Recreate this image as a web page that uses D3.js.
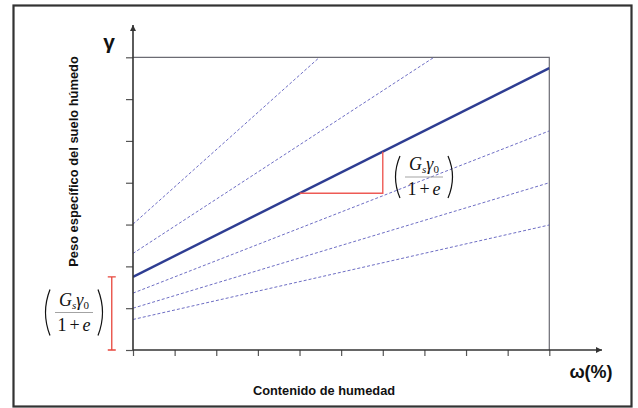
<!DOCTYPE html>
<html><head><meta charset="utf-8">
<script src="https://cdn.jsdelivr.net/npm/d3@7"></script>
<style>body{margin:0;background:#fff}svg{display:block}</style>
</head><body>
<svg id="c" width="638" height="408"></svg>
<script>
// ---- data ----
const xTicks = [0,1,2,3,4,5,6,7,8,9,10];
const yTicks = [0,1,2,3,4,5,6,7];
const mainLine = [[0,1.75],[10,6.74]];
const dashedLines = [
  [[0,3.01],[4.48,7]],
  [[0,2.31],[7.23,7]],
  [[0,1.36],[10,5.24]],
  [[0,1.00],[10,4.00]],
  [[0,0.73],[10,2.99]]
];
const slopeTriangle = [[4,3.75],[6,3.75],[6,4.74]];
const interceptBracket = [0,1.75];
const bracketX = -0.51;
const yLabel = "Peso específico del suelo húmedo";
const xLabel = "Contenido de humedad";
const yAxisSymbol = "γ";
const xAxisSymbol = "ω(%)";

// ---- drawing ----
const svg = d3.select("#c");
const x = d3.scaleLinear().domain([0,10]).range([133,549.3]);
const y = d3.scaleLinear().domain([0,7]).range([350,57.3]);

// outer frame
svg.append("rect").attr("x",13.5).attr("y",5.5).attr("width",618).attr("height",401)
  .attr("fill","none").attr("stroke","#333").attr("stroke-width",2.2);

// plot top/right borders
svg.append("path").attr("d",`M${x(0)},${y(7)}H${x(10)}V${y(0)}`)
  .attr("fill","none").attr("stroke","#6b6b73").attr("stroke-width",1.2);

const defs = svg.append("defs");
defs.append("clipPath").attr("id","clip").append("rect")
  .attr("x",x(0)).attr("y",y(7)).attr("width",x(10)-x(0)).attr("height",y(0)-y(7));

const line = d3.line().x(d=>x(d[0])).y(d=>y(d[1]));
const g = svg.append("g").attr("clip-path","url(#clip)");
g.selectAll(".dash").data(dashedLines).join("path")
  .attr("d",line).attr("fill","none").attr("stroke","#6e6ec4")
  .attr("stroke-width",1).attr("stroke-dasharray","3,2");

// slope triangle
svg.append("path").attr("d",line(slopeTriangle))
  .attr("fill","none").attr("stroke","#ee5a55").attr("stroke-width",1.4);

g.append("path").attr("d",line(mainLine)).attr("fill","none")
  .attr("stroke","#2e3d92").attr("stroke-width",2.4);

// axes ticks
svg.append("g").attr("transform",`translate(${x(0)},0)`)
  .call(d3.axisLeft(y).tickValues(yTicks).tickSize(7).tickFormat(""))
  .call(a=>a.select(".domain").remove())
  .call(a=>a.selectAll("line").attr("stroke","#555").attr("stroke-width",1.2));
svg.append("g").attr("transform",`translate(0,${y(0)})`)
  .call(d3.axisBottom(x).tickValues(xTicks).tickSize(6).tickFormat(""))
  .call(a=>a.select(".domain").remove())
  .call(a=>a.selectAll("line").attr("stroke","#555").attr("stroke-width",1.2));

// axis lines with arrows
defs.append("marker").attr("id","arr").attr("viewBox","0 0 10 10").attr("refX",10).attr("refY",5)
  .attr("markerWidth",7).attr("markerHeight",6).attr("markerUnits","userSpaceOnUse").attr("orient","auto")
  .append("path").attr("d","M0,0L10,5L0,10Z").attr("fill","#333");
svg.append("line").attr("x1",x(0)).attr("y1",y(0)).attr("x2",x(0)).attr("y2",25)
  .attr("stroke","#333").attr("stroke-width",1.6).attr("marker-end","url(#arr)");
svg.append("line").attr("x1",x(0)).attr("y1",y(0)).attr("x2",602).attr("y2",y(0))
  .attr("stroke","#333").attr("stroke-width",1.6).attr("marker-end","url(#arr)");

// symbols and labels
svg.append("text").attr("x",109).attr("y",49).attr("text-anchor","middle")
  .attr("font-family","Liberation Sans, Arial").attr("font-weight","bold").attr("font-size",21)
  .attr("fill","#111").text(yAxisSymbol);
svg.append("text").attr("x",591).attr("y",378).attr("text-anchor","middle")
  .attr("font-family","Liberation Sans, Arial").attr("font-weight","bold").attr("font-size",18)
  .attr("fill","#111").text(xAxisSymbol);
svg.append("text").attr("transform","translate(78,161.5) rotate(-90)").attr("text-anchor","middle")
  .attr("font-family","Liberation Sans, Arial").attr("font-weight","bold").attr("font-size",12.9)
  .attr("fill","#111").text(yLabel);
svg.append("text").attr("x",324).attr("y",395).attr("text-anchor","middle")
  .attr("font-family","Liberation Sans, Arial").attr("font-weight","bold").attr("font-size",12.8)
  .attr("fill","#111").text(xLabel);

// intercept bracket
const bx = x(bracketX);
svg.append("path")
  .attr("d",`M${bx-4},${y(interceptBracket[1])}H${bx+4}M${bx},${y(interceptBracket[1])}V${y(interceptBracket[0])}M${bx-4},${y(interceptBracket[0])}H${bx+4}`)
  .attr("fill","none").attr("stroke","#e8463c").attr("stroke-width",1.3);

// formula (G_s γ_0)/(1+e) in parentheses
function formula(cx, cy, h){
  const f = svg.append("g").attr("transform",`translate(${cx},${cy})`)
    .attr("font-family","Liberation Serif, Times New Roman").attr("fill","#111");
  const num = f.append("text").attr("y",-7).attr("text-anchor","middle").attr("font-size",18);
  num.append("tspan").attr("font-style","italic").text("G");
  num.append("tspan").attr("font-style","italic").attr("font-size",11).attr("dy",3).text("s");
  num.append("tspan").attr("font-style","italic").attr("dy",-3).text("γ");
  num.append("tspan").attr("font-size",11).attr("dy",3).text("0");
  f.append("line").attr("x1",-19).attr("x2",19).attr("y1",0).attr("y2",0)
    .attr("stroke","#999").attr("stroke-width",0.9);
  const den = f.append("text").attr("y",18).attr("text-anchor","middle").attr("font-size",18);
  den.append("tspan").text("1");
  den.append("tspan").attr("dx",3).text("+");
  den.append("tspan").attr("dx",3).attr("font-style","italic").text("e");
  const hh = h/2;
  f.append("path").attr("d",`M-24,${-hh} Q-33,0 -24,${hh}`).attr("fill","none").attr("stroke","#111").attr("stroke-width",1.2);
  f.append("path").attr("d",`M24,${-hh} Q33,0 24,${hh}`).attr("fill","none").attr("stroke","#111").attr("stroke-width",1.2);
}
formula(74, 312.5, 46);
formula(424, 177, 42);
</script>
</body></html>
